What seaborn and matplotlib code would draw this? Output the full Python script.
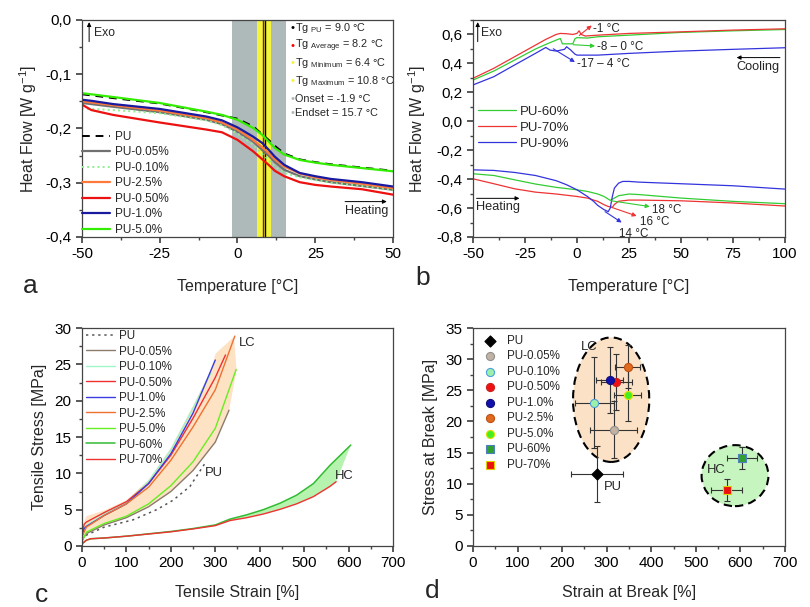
import numpy as np
import pandas as pd
import matplotlib.pyplot as plt
import matplotlib.ticker as mticker
from matplotlib.patches import Ellipse
import seaborn as sns

# ---------------- data ----------------
# (a) DSC heating curves, heat flow [W/g] vs temperature [C]
temp_a = [-50, -47, -40, -25, -10, -5, 0, 5, 8, 10, 12, 15, 20, 25, 30, 40, 50]
hf_pu = [-0.137, -0.139, -0.144, -0.154, -0.170, -0.176, -0.182, -0.196, -0.211, -0.221, -0.232, -0.246, -0.257, -0.262, -0.266, -0.272, -0.278]
hf_005 = [-0.153, -0.155, -0.160, -0.170, -0.184, -0.192, -0.206, -0.224, -0.240, -0.250, -0.262, -0.276, -0.288, -0.294, -0.299, -0.306, -0.313]
hf_010 = [-0.163, -0.164, -0.166, -0.172, -0.185, -0.194, -0.209, -0.230, -0.247, -0.258, -0.270, -0.282, -0.290, -0.295, -0.300, -0.306, -0.313]
hf_25 = [-0.150, -0.152, -0.157, -0.167, -0.181, -0.189, -0.202, -0.221, -0.235, -0.245, -0.257, -0.270, -0.283, -0.290, -0.295, -0.302, -0.310]
hf_050 = [-0.156, -0.166, -0.175, -0.189, -0.202, -0.207, -0.221, -0.242, -0.257, -0.267, -0.278, -0.288, -0.299, -0.304, -0.307, -0.312, -0.322]
hf_10 = [-0.147, -0.149, -0.155, -0.164, -0.178, -0.185, -0.198, -0.215, -0.227, -0.239, -0.252, -0.267, -0.282, -0.288, -0.293, -0.299, -0.307]
hf_50 = [-0.135, -0.137, -0.142, -0.153, -0.169, -0.175, -0.184, -0.199, -0.212, -0.224, -0.236, -0.248, -0.258, -0.263, -0.267, -0.273, -0.279]

tg_pu, tg_avg, tg_min, tg_max = 9.0, 8.2, 6.4, 10.8
onset, endset = -1.9, 15.7

# (b) cooling (top) and heating (bottom) curves
cool_60_t = [-50, -40, -30, -20, -15, -10, -8, -7, -2, -1, 0, 5, 10, 25, 50, 75, 100]
cool_60_hf = [0.285, 0.347, 0.423, 0.499, 0.531, 0.561, 0.572, 0.535, 0.535, 0.570, 0.578, 0.575, 0.584, 0.595, 0.614, 0.625, 0.634]
cool_70_t = [-50, -40, -30, -20, -15, -10, -8, -5, -2, 0, 1, 2, 4, 10, 25, 50, 75, 100]
cool_70_hf = [0.297, 0.366, 0.446, 0.526, 0.566, 0.600, 0.607, 0.605, 0.600, 0.607, 0.625, 0.600, 0.589, 0.595, 0.607, 0.618, 0.630, 0.639]
cool_90_t = [-50, -40, -30, -20, -15, -13, -10, -6, -5, -3, -1, 0, 10, 25, 50, 75, 100]
cool_90_hf = [0.251, 0.308, 0.389, 0.469, 0.510, 0.492, 0.485, 0.497, 0.515, 0.492, 0.464, 0.457, 0.457, 0.469, 0.485, 0.497, 0.508]

heat_60_t = [-50, -40, -30, -20, -10, 0, 5, 10, 13, 15, 16, 18, 20, 25, 30, 50, 75, 100]
heat_60_hf = [-0.363, -0.375, -0.405, -0.434, -0.457, -0.474, -0.485, -0.503, -0.520, -0.538, -0.547, -0.531, -0.515, -0.503, -0.507, -0.531, -0.554, -0.570]
heat_70_t = [-50, -40, -30, -20, -10, 0, 5, 10, 13, 15, 17, 18, 20, 25, 30, 50, 75, 100]
heat_70_hf = [-0.398, -0.432, -0.467, -0.490, -0.503, -0.520, -0.531, -0.554, -0.577, -0.589, -0.595, -0.575, -0.553, -0.545, -0.545, -0.550, -0.565, -0.586]
heat_90_t = [-50, -40, -30, -20, -10, -5, 0, 5, 8, 10, 13, 15, 16, 17, 18, 20, 22, 25, 30, 50, 75, 100]
heat_90_hf = [-0.336, -0.340, -0.354, -0.375, -0.411, -0.439, -0.474, -0.520, -0.554, -0.582, -0.611, -0.625, -0.600, -0.520, -0.462, -0.428, -0.416, -0.416, -0.421, -0.432, -0.446, -0.469]

# (c) tensile curves, strain [%] / stress [MPa]
strain_pu = [0, 10, 50, 115, 168, 205, 243, 277]
stress_pu = [0.8, 1.5, 2.6, 3.6, 5.0, 6.3, 8.2, 11.4]
strain_005 = [0, 10, 50, 100, 150, 200, 250, 300, 331]
stress_005 = [0.8, 1.7, 2.9, 3.9, 5.4, 7.5, 10.4, 14.3, 18.7]
strain_010 = [0, 10, 50, 100, 150, 200, 250, 290]
stress_010 = [1.5, 2.8, 4.4, 6.0, 8.9, 13.2, 19.0, 23.8]
strain_050 = [0, 5, 10, 50, 100, 150, 200, 250, 300, 323]
stress_050 = [1.5, 3.0, 3.3, 4.6, 6.1, 8.6, 12.5, 17.6, 23.2, 26.3]
strain_10 = [0, 5, 10, 50, 100, 150, 200, 250, 300]
stress_10 = [1.2, 2.4, 2.7, 4.2, 5.8, 8.6, 12.7, 18.3, 25.6]
strain_25 = [0, 10, 50, 100, 150, 200, 250, 300, 344]
stress_25 = [1.3, 2.6, 4.2, 5.8, 8.1, 11.8, 16.4, 21.5, 28.9]
strain_50 = [0, 10, 50, 100, 150, 200, 250, 300, 347]
stress_50 = [0.6, 1.9, 3.1, 4.1, 5.8, 8.3, 11.6, 16.2, 24.3]
strain_60 = [0, 10, 20, 50, 100, 200, 250, 300, 333, 371, 408, 446, 483, 521, 558, 605]
stress_60 = [0.3, 0.8, 1.0, 1.1, 1.35, 2.0, 2.4, 2.9, 3.7, 4.3, 5.0, 5.9, 7.0, 8.6, 11.1, 13.9]
strain_70 = [0, 10, 20, 50, 100, 200, 250, 300, 333, 371, 408, 446, 483, 521, 558, 572]
stress_70 = [0.3, 0.8, 1.0, 1.1, 1.35, 1.95, 2.35, 2.8, 3.5, 3.9, 4.4, 5.05, 5.8, 6.8, 8.2, 8.85]

# LC shaded envelope (upper edge out to the end, then back along the lower edge)
lc_band_strain = [0, 10, 50, 100, 150, 200, 250, 290, 301, 342, 348, 331, 300, 250, 200, 150, 100, 50, 10, 0]
lc_band_stress = [2.6, 4.1, 4.9, 6.3, 9.1, 13.5, 19.3, 24.2, 26.5, 28.8, 24.2, 18.7, 14.3, 10.4, 7.5, 5.4, 3.9, 2.9, 1.7, 0.8]

# (d) values at break
samples_d = ['PU', 'PU-0.05%', 'PU-0.10%', 'PU-0.50%', 'PU-1.0%', 'PU-2.5%', 'PU-5.0%', 'PU-60%', 'PU-70%']
strain_break = [279, 316, 272, 322, 307, 347, 347, 603, 569]
strain_break_err = [58, 53, 44, 35, 30, 28, 30, 34, 35]
stress_break = [11.5, 18.7, 23.0, 26.3, 26.6, 28.8, 24.3, 14.1, 9.0]
stress_break_err = [4.5, 4.6, 7.3, 4.5, 5.3, 3.5, 4.2, 1.8, 1.8]

# ---------------- style ----------------
sns.set_theme(style='ticks')
plt.rcParams['font.family'] = ['Liberation Sans', 'DejaVu Sans']
plt.rcParams['mathtext.fontset'] = 'custom'
plt.rcParams['mathtext.rm'] = 'Liberation Sans'
plt.rcParams['mathtext.it'] = 'Liberation Sans:italic'
plt.rcParams['axes.unicode_minus'] = False
plt.rcParams['axes.edgecolor'] = '#444444'
plt.rcParams['axes.linewidth'] = 0.9
plt.rcParams['xtick.color'] = '#444444'
plt.rcParams['ytick.color'] = '#444444'
plt.rcParams['xtick.labelcolor'] = 'black'
plt.rcParams['ytick.labelcolor'] = 'black'
plt.rcParams['xtick.labelsize'] = 11
plt.rcParams['ytick.labelsize'] = 11
plt.rcParams['xtick.major.size'] = 4
plt.rcParams['ytick.major.size'] = 4
plt.rcParams['xtick.minor.size'] = 2.5
plt.rcParams['ytick.minor.size'] = 2.5
plt.rcParams['axes.labelsize'] = 11.5


def comma(v, pos):
    if abs(v) < 1e-9:
        v = 0.0
    return f"{v:.1f}".replace('.', ',')


def line(ax, x, y, color, label=None, ls='-', lw=1.0):
    sns.lineplot(x=x, y=y, ax=ax, color=color, linestyle=ls, linewidth=lw,
                 label=label, sort=False, estimator=None)


def style_axes(ax, xlim, ylim, xmaj, ymaj, xlabel, ylabel, ycomma=False):
    ax.set_xlim(*xlim)
    ax.set_ylim(*ylim)
    ax.xaxis.set_major_locator(mticker.MultipleLocator(xmaj))
    ax.xaxis.set_minor_locator(mticker.MultipleLocator(xmaj / 2))
    ax.yaxis.set_major_locator(mticker.MultipleLocator(ymaj))
    ax.yaxis.set_minor_locator(mticker.MultipleLocator(ymaj / 2))
    if ycomma:
        ax.yaxis.set_major_formatter(mticker.FuncFormatter(comma))
    for s in ['top', 'right']:
        ax.spines[s].set_visible(True)
    ax.set_xlabel(xlabel)
    ax.set_ylabel(ylabel)


def small_arrow(ax, start, end, color='black', lw=0.8, coords='data'):
    ax.annotate('', xy=end, xytext=start, xycoords=coords, textcoords=coords,
                arrowprops=dict(arrowstyle='-|>', color=color, lw=lw,
                                mutation_scale=6, shrinkA=0, shrinkB=0))


fig = plt.figure(figsize=(8.1, 6.07), dpi=100)
ax_a = fig.add_axes([0.1012, 0.6096, 0.384, 0.3575])
ax_b = fig.add_axes([0.584, 0.6096, 0.385, 0.3575])
ax_c = fig.add_axes([0.1012, 0.1005, 0.384, 0.359])
ax_d = fig.add_axes([0.584, 0.1005, 0.385, 0.359])

# ---------------- (a) ----------------
ax = ax_a
ax.axvspan(onset, endset, color='#aeb9b9', lw=0, zorder=0)
ax.axvspan(tg_min, tg_max, color='#f4f43c', lw=0, zorder=0)
ax.axvline(tg_avg, color='#8b1a1a', lw=1.0, zorder=1)
ax.axvline(tg_pu, color='black', lw=1.0, zorder=1)

line(ax, temp_a, hf_pu, 'black', 'PU', ls=(0, (4, 3)), lw=1.4)
line(ax, temp_a, hf_005, '#707070', 'PU-0.05%', lw=1.6)
line(ax, temp_a, hf_010, '#8fef8f', 'PU-0.10%', ls=':', lw=1.4)
line(ax, temp_a, hf_25, '#ff7a3a', 'PU-2.5%', lw=1.6)
line(ax, temp_a, hf_050, '#ee1111', 'PU-0.50%', lw=1.6)
line(ax, temp_a, hf_10, '#1a1aa0', 'PU-1.0%', lw=1.6)
line(ax, temp_a, hf_50, '#33ee00', 'PU-5.0%', lw=1.6)
style_axes(ax, (-50, 50), (-0.4, 0.0), 25, 0.1, 'Temperature [°C]',
           r'Heat Flow [W g$^{\mathrm{-1}}$]', ycomma=True)
ax.legend(loc='upper left', bbox_to_anchor=(0.0, 0.49), frameon=False, fontsize=8.5,
          borderpad=0, borderaxespad=0, handlelength=2.4, handletextpad=0.4, labelspacing=0.3)

tg_lines = [
    ('black', r'Tg $_{\mathrm{PU}}$ = 9.0 °C', 0.962),
    ('red', r'Tg $_{\mathrm{Average}}$ = 8.2 °C', 0.880),
    ('#f4f43c', r'Tg $_{\mathrm{Minimum}}$ = 6.4 °C', 0.800),
    ('#f4f43c', r'Tg $_{\mathrm{Maximum}}$ = 10.8 °C', 0.719),
    ('#aeb9b9', 'Onset = -1.9 °C', 0.636),
    ('#aeb9b9', 'Endset = 15.7 °C', 0.570),
]
for c, txt, yy in tg_lines:
    ax.text(0.672, yy, '•', color=c, fontsize=8, transform=ax.transAxes, ha='left', va='center')
    ax.text(0.686, yy, txt, fontsize=7.8, transform=ax.transAxes, ha='left', va='center')

small_arrow(ax, (0.023, 0.90), (0.023, 0.99), lw=0.7, coords='axes fraction')
ax.text(0.04, 0.94, 'Exo', fontsize=8.8, transform=ax.transAxes, ha='left', va='center')
small_arrow(ax, (0.846, 0.163), (0.98, 0.163), lw=0.7, coords='axes fraction')
ax.text(0.846, 0.12, 'Heating', fontsize=9, transform=ax.transAxes, ha='left', va='center')
ax.yaxis.set_label_coords(-0.139, 0.5)
ax.xaxis.set_label_coords(0.5, -0.193)

# ---------------- (b) ----------------
ax = ax_b
line(ax, cool_60_t, cool_60_hf, '#33cc33', 'PU-60%', lw=0.9)
line(ax, cool_70_t, cool_70_hf, '#ee3333', 'PU-70%', lw=0.9)
line(ax, cool_90_t, cool_90_hf, '#3333dd', 'PU-90%', lw=0.9)
line(ax, heat_60_t, heat_60_hf, '#33cc33', lw=0.9)
line(ax, heat_70_t, heat_70_hf, '#ee3333', lw=0.9)
line(ax, heat_90_t, heat_90_hf, '#3333dd', lw=0.9)
style_axes(ax, (-50, 100), (-0.8, 0.7), 25, 0.2, 'Temperature [°C]',
           r'Heat Flow [W g$^{\mathrm{-1}}$]', ycomma=True)
ax.set_yticks(np.arange(-0.8, 0.61, 0.2))
h, l = ax.get_legend_handles_labels()
ax.legend(h, l, loc='upper left', bbox_to_anchor=(0.016, 0.605), frameon=False, fontsize=9.5,
          borderpad=0, borderaxespad=0, handlelength=2.9, handletextpad=0.25, labelspacing=0.28)

peaks_b = [
    ((1.1, 0.593), (7.1, 0.662), '#ee3333', '-1 °C', (7.5, 0.64)),
    ((-1.8, 0.529), (8.7, 0.52), '#33cc33', '-8 – 0 °C', (9.5, 0.51)),
    ((-11.4, 0.501), (-1.0, 0.409), '#3333dd', '-17 – 4 °C', (-0.1, 0.398)),
    ((16.5, -0.55), (35.0, -0.59), '#33cc33', '18 °C', (35.9, -0.612)),
    ((16.6, -0.595), (28.7, -0.655), '#ee3333', '16 °C', (30.3, -0.697)),
    ((13.5, -0.625), (21.5, -0.70), '#3333dd', '14 °C', (20.0, -0.777)),
]
for start, end, c, txt, pos in peaks_b:
    small_arrow(ax, start, end, color=c, lw=0.8)
    ax.text(pos[0], pos[1], txt, fontsize=8.4, ha='left', va='center')

small_arrow(ax, (0.015, 0.90), (0.015, 0.99), lw=0.7, coords='axes fraction')
ax.text(0.024, 0.94, 'Exo', fontsize=8.8, transform=ax.transAxes, ha='left', va='center')
small_arrow(ax, (97.6, 0.44), (76.8, 0.44), lw=0.7)
ax.text(76.7, 0.375, 'Cooling', fontsize=9.2, ha='left', va='center')
small_arrow(ax, (-48.3, -0.533), (-27.7, -0.533), lw=0.7)
ax.text(-48.5, -0.593, 'Heating', fontsize=9.2, ha='left', va='center')
ax.yaxis.set_label_coords(-0.143, 0.5)
ax.xaxis.set_label_coords(0.5, -0.193)

# ---------------- (c) ----------------
ax = ax_c
ax.fill(lc_band_strain, lc_band_stress, color='#fde2c4', lw=0, zorder=0)
ax.fill(strain_60 + strain_70[::-1], stress_60 + stress_70[::-1], color='#b6f3ae', lw=0, zorder=0)
line(ax, strain_pu, stress_pu, '#555555', 'PU', ls=(0, (1.5, 2.5)), lw=1.1)
line(ax, strain_005, stress_005, '#8c7b6b', 'PU-0.05%', lw=1.0)
line(ax, strain_010, stress_010, '#9ff5c5', 'PU-0.10%', lw=1.0)
line(ax, strain_050, stress_050, '#f03030', 'PU-0.50%', lw=1.0)
line(ax, strain_10, stress_10, '#3c3ce0', 'PU-1.0%', lw=1.0)
line(ax, strain_25, stress_25, '#f07030', 'PU-2.5%', lw=1.0)
line(ax, strain_50, stress_50, '#66ee22', 'PU-5.0%', lw=1.0)
line(ax, strain_60, stress_60, '#33bb33', 'PU-60%', lw=1.1)
line(ax, strain_70, stress_70, '#ee3333', 'PU-70%', lw=1.0)
style_axes(ax, (0, 700), (0, 30), 100, 5, 'Tensile Strain [%]', 'Tensile Stress [MPa]')
ax.legend(loc='upper left', bbox_to_anchor=(0.013, 0.991), frameon=False, fontsize=8.4,
          borderpad=0, borderaxespad=0, handlelength=2.45, handletextpad=0.35, labelspacing=0.3)
ax.text(352, 27.9, 'LC', fontsize=9.4, ha='left', va='center')
ax.text(277, 10.0, 'PU', fontsize=9.4, ha='left', va='center')
ax.text(569, 9.7, 'HC', fontsize=9.4, ha='left', va='center')
ax.yaxis.set_label_coords(-0.114, 0.5)
ax.xaxis.set_label_coords(0.5, -0.18)

# ---------------- (d) ----------------
ax = ax_d
ax.add_patch(Ellipse((310, 23.5), 171, 20, facecolor='#fbe1c5', edgecolor='black',
                     lw=1.5, ls=(0, (4, 2.5)), zorder=0))
ax.add_patch(Ellipse((588, 11.3), 150, 9.8, facecolor='#c6f5bf', edgecolor='black',
                     lw=1.5, ls=(0, (4, 2.5)), zorder=0))

marker_d = ['D', 'o', 'o', 'o', 'o', 'o', 'o', 's', 's']
face_d = ['black', '#c2b2a2', '#9cf0a8', '#ee1111', '#1010aa', '#e06a20', '#44ee22', '#30a030', '#ee1111']
edge_d = ['black', '#909090', '#4aa0e0', '#cc2222', '#101080', '#c05010', '#e0e000', '#5080c0', '#e0d000']
size_d = [32, 34, 34, 34, 34, 34, 34, 30, 30]
for i, name in enumerate(samples_d):
    ax.errorbar(strain_break[i], stress_break[i], xerr=strain_break_err[i], yerr=stress_break_err[i],
                fmt='none', ecolor='#333333', elinewidth=0.8, capsize=2.5, capthick=0.8, zorder=2)
    sns.scatterplot(x=[strain_break[i]], y=[stress_break[i]], ax=ax, marker=marker_d[i],
                    color=face_d[i], edgecolor=edge_d[i], linewidth=0.8, s=size_d[i],
                    label=name, zorder=4)
style_axes(ax, (0, 700), (0, 35), 100, 5, 'Strain at Break [%]', 'Stress at Break [MPa]')
ax.legend(loc='upper left', bbox_to_anchor=(0.031, 0.969), frameon=False, fontsize=8.4,
          borderpad=0, borderaxespad=0, handlelength=1.2, handletextpad=0.9, labelspacing=0.3)
ax.text(242, 32.0, 'LC', fontsize=9.4, ha='left', va='center')
ax.text(294, 9.4, 'PU', fontsize=9.4, ha='left', va='center')
ax.text(524, 12.2, 'HC', fontsize=9.4, ha='left', va='center')
ax.yaxis.set_label_coords(-0.111, 0.5)
ax.xaxis.set_label_coords(0.5, -0.18)

# panel letters
for letter, px, py in [('a', 23, 293), ('b', 415, 285), ('c', 35, 602), ('d', 425, 598)]:
    fig.text(px / 810, 1 - py / 607, letter, fontsize=19, ha='left', va='baseline')

fig.savefig('out.png', dpi=100)
